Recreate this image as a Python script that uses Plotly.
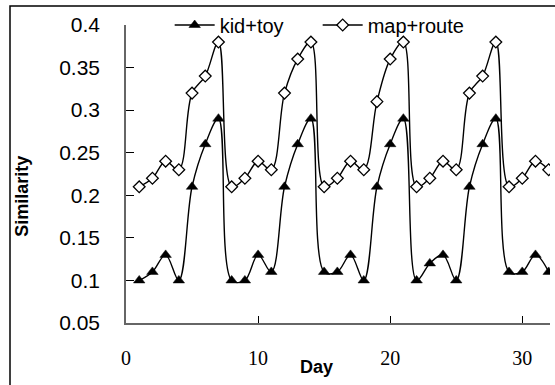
import plotly.graph_objects as go

days = list(range(1, 33))
kid_toy = [0.10, 0.11, 0.13, 0.10, 0.21, 0.26, 0.29,
           0.10, 0.10, 0.13, 0.11, 0.21, 0.26, 0.29,
           0.11, 0.11, 0.13, 0.10, 0.21, 0.26, 0.29,
           0.10, 0.12, 0.13, 0.10, 0.21, 0.26, 0.29,
           0.11, 0.11, 0.13, 0.11]
map_route = [0.21, 0.22, 0.24, 0.23, 0.32, 0.34, 0.38,
             0.21, 0.22, 0.24, 0.23, 0.32, 0.36, 0.38,
             0.21, 0.22, 0.24, 0.23, 0.31, 0.36, 0.38,
             0.21, 0.22, 0.24, 0.23, 0.32, 0.34, 0.38,
             0.21, 0.22, 0.24, 0.23]
x_ticks = [0, 10, 20, 30]
y_ticks = [0.05, 0.1, 0.15, 0.2, 0.25, 0.3, 0.35, 0.4]
y_ticktext = ["0.05", "0.1", "0.15", "0.2", "0.25", "0.3", "0.35", "0.4"]

fig = go.Figure()
fig.add_trace(go.Scatter(
    x=days, y=kid_toy, name="kid+toy", mode="lines+markers",
    line=dict(color="black", width=1.4, shape="spline", smoothing=1.0),
    marker=dict(symbol="triangle-up", size=10, color="black",
                line=dict(color="black", width=0.5)),
))
fig.add_trace(go.Scatter(
    x=days, y=map_route, name="map+route", mode="lines+markers",
    line=dict(color="black", width=1.4, shape="spline", smoothing=1.0),
    marker=dict(symbol="diamond", size=9, color="white",
                line=dict(color="black", width=1.3)),
))

fig.update_layout(
    width=555, height=385,
    margin=dict(l=126, r=5, t=21, b=62, pad=0),
    paper_bgcolor="white", plot_bgcolor="white",
    font=dict(family="Arial, Liberation Sans", size=20, color="black"),
    showlegend=True,
    legend=dict(orientation="h", x=0.103, y=1.0, xanchor="left", yanchor="middle",
                font=dict(family="Arial, Liberation Sans", size=20, color="black"),
                bgcolor="rgba(0,0,0,0)", itemwidth=40, tracegroupgap=0,
                entrywidth=93, entrywidthmode="pixels"),
)
fig.update_xaxes(
    range=[0, 32.1], tickmode="array", tickvals=x_ticks,
    ticks="inside", ticklen=7, tickcolor="black", tickwidth=1,
    showline=True, linecolor="#666666", linewidth=1.5,
    showgrid=False, zeroline=False,
    tickfont=dict(family="Liberation Serif, Times New Roman", size=20, color="black"),
    ticklabelstandoff=16,
)
fig.update_yaxes(
    range=[0.05, 0.4], tickmode="array", tickvals=y_ticks, ticktext=y_ticktext,
    ticks="inside", ticklen=8, tickcolor="black", tickwidth=1,
    showline=True, linecolor="#666666", linewidth=1.5,
    showgrid=False, zeroline=False,
    tickfont=dict(family="Arial, Liberation Sans", size=21, color="black"),
    ticklabelstandoff=20,
)

# axis titles
fig.add_annotation(text="<b>Day</b>", xref="paper", yref="paper",
                   x=(316 - 126) / 424, y=(322.7 - 367) / 301.4,
                   showarrow=False, font=dict(size=18, family="Arial, Liberation Sans"),
                   xanchor="center", yanchor="middle")
fig.add_annotation(text="<b>Similarity</b>", xref="paper", yref="paper",
                   x=(22 - 126) / 424, y=(322.7 - 195) / 301.4, textangle=-90,
                   showarrow=False, font=dict(size=18, family="Arial, Liberation Sans"),
                   xanchor="center", yanchor="middle")

# outer chart-area border (only top and left visible)
fig.add_shape(type="rect", xref="paper", yref="paper",
              x0=(10 - 126) / 424, x1=(570 - 126) / 424,
              y0=(322.7 - 400) / 301.4, y1=(322.7 - 2) / 301.4,
              line=dict(color="black", width=1.5), fillcolor="rgba(0,0,0,0)", layer="below")

fig.write_html("out.html")
